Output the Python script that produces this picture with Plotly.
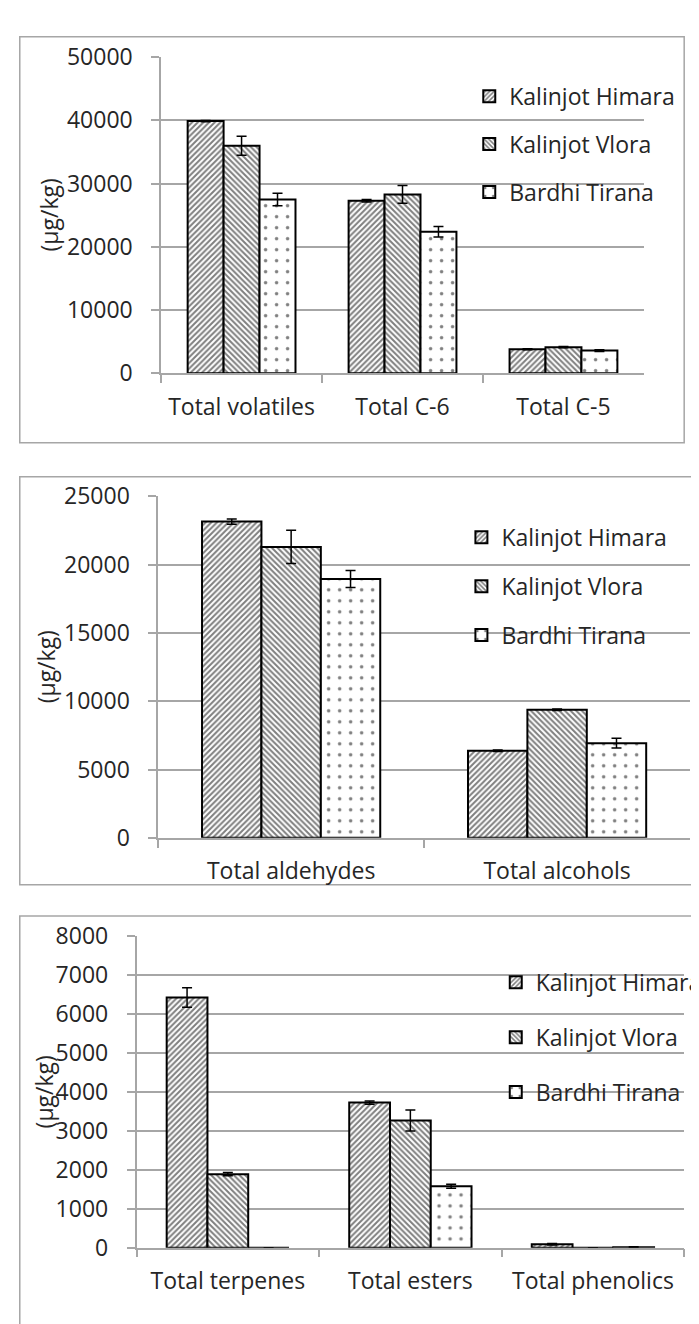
import plotly.graph_objects as go

W, H = 699, 1324

series = ["Kalinjot Himara", "Kalinjot Vlora", "Bardhi Tirana"]
patterns = ["/", "\\", "."]
y_title = "(μg/kg)"

# Panel 1
cats1 = ["Total volatiles", "Total C-6", "Total C-5"]
vals1 = {
    "Kalinjot Himara": [39900, 27300, 3800],
    "Kalinjot Vlora": [36000, 28300, 4150],
    "Bardhi Tirana": [27500, 22400, 3600],
}
errs1 = {
    "Kalinjot Himara": [100, 200, 80],
    "Kalinjot Vlora": [1500, 1400, 100],
    "Bardhi Tirana": [1000, 820, 150],
}

# Panel 2
cats2 = ["Total aldehydes", "Total alcohols"]
vals2 = {
    "Kalinjot Himara": [23150, 6380],
    "Kalinjot Vlora": [21300, 9380],
    "Bardhi Tirana": [18950, 6930],
}
errs2 = {
    "Kalinjot Himara": [190, 60],
    "Kalinjot Vlora": [1220, 50],
    "Bardhi Tirana": [630, 360],
}

# Panel 3
cats3 = ["Total terpenes", "Total esters", "Total phenolics"]
vals3 = {
    "Kalinjot Himara": [6430, 3730, 90],
    "Kalinjot Vlora": [1890, 3270, 0],
    "Bardhi Tirana": [0, 1580, 15],
}
errs3 = {
    "Kalinjot Himara": [250, 40, 20],
    "Kalinjot Vlora": [40, 270, 0],
    "Bardhi Tirana": [0, 50, 10],
}

FONT = "Open Sans"
FS = 23
TXT = "#262626"
GRID = "#a6a6a6"

panels = [
    dict(cats=cats1, vals=vals1, errs=errs1, ymax=50000, dtick=10000,
         xpx=(156, 648), ypx=(33, 357), box=(12, 12, 689, 428),
         leg=(470, 51), gap=15, tx=42),
    dict(cats=cats2, vals=vals2, errs=errs2, ymax=25000, dtick=5000,
         xpx=(153, 695), ypx=(483, 833), box=(12, 463, 760, 881),
         leg=(462, 503), gap=16, tx=39),
    dict(cats=cats3, vals=vals3, errs=errs3, ymax=8000, dtick=1000,
         xpx=(131, 689), ypx=(934, 1253), box=(12, 913, 760, 1400),
         leg=(497, 959), gap=22, tx=37),
]

fig = go.Figure()
layout = {}
shapes = []
annotations = []

for i, p in enumerate(panels):
    n = "" if i == 0 else str(i + 1)
    legname = "legend" + n
    for s, pat in zip(series, patterns):
        fig.add_trace(go.Bar(
            x=p["cats"], y=p["vals"][s], name=s,
            xaxis="x" + n, yaxis="y" + n,
            legend=legname, legendgroup=f"{s}{i}",
            marker=dict(color="white",
                        line=dict(color="black", width=2),
                        pattern=dict(shape=pat, fgcolor="black", bgcolor="white",
                                     size=4 if pat != "." else 11,
                                     solidity=0.5 if pat != "." else 0.08,
                                     fillmode="overlay")),
            error_y=dict(type="data", array=p["errs"][s], visible=True,
                         color="black", thickness=1.5, width=5),
        ))
    x0, x1 = p["xpx"]
    yt, yb = p["ypx"]
    layout["xaxis" + n] = dict(
        domain=[x0 / W, x1 / W], anchor="y" + n,
        range=[-0.5, len(p["cats"]) - 0.5],
        showline=True, linecolor=GRID, linewidth=1.5,
        ticks="outside", tickson="boundaries", ticklen=8, tickcolor=GRID, tickwidth=1.5,
        tickfont=dict(family=FONT, size=FS, color=TXT),
        ticklabelstandoff=12,
        showgrid=False, fixedrange=True,
    )
    layout["yaxis" + n] = dict(
        domain=[1 - yb / H, 1 - yt / H], anchor="x" + n,
        range=[0, p["ymax"]], dtick=p["dtick"], tickformat="d",
        showline=True, linecolor=GRID, linewidth=1.5,
        ticks="outside", ticklen=8, tickcolor=GRID, tickwidth=1.5,
        showgrid=True, gridcolor=GRID, gridwidth=1.5,
        zeroline=False,
        tickfont=dict(family=FONT, size=FS, color=TXT),
        ticklabelstandoff=14,
        fixedrange=True,
    )
    annotations.append(dict(
        text=y_title, xref="paper", yref="paper",
        x=p["tx"] / W, y=1 - (yt + yb) / 2 / H,
        xanchor="center", yanchor="middle", textangle=-90, showarrow=False,
        font=dict(family=FONT, size=FS, color=TXT),
    ))
    lx, ly = p["leg"]
    layout[legname] = dict(
        x=lx / W, y=1 - ly / H, xanchor="left", yanchor="top",
        bgcolor="rgba(0,0,0,0)", font=dict(family=FONT, size=FS, color=TXT),
        tracegroupgap=p["gap"], traceorder="grouped",
    )
    bx0, by0, bx1, by1 = p["box"]
    shapes.append(dict(type="rect", xref="paper", yref="paper",
                       x0=bx0 / W, x1=bx1 / W, y0=1 - by1 / H, y1=1 - by0 / H,
                       line=dict(color=GRID, width=1.5), fillcolor="rgba(0,0,0,0)",
                       layer="below"))

fig.update_layout(
    width=W, height=H,
    margin=dict(l=0, r=0, t=0, b=0),
    paper_bgcolor="white", plot_bgcolor="white",
    barmode="group", bargap=0.33, bargroupgap=0,
    showlegend=True,
    shapes=shapes,
    annotations=annotations,
    font=dict(family=FONT, size=FS, color=TXT),
    **layout,
)

fig.write_html("out.html")
